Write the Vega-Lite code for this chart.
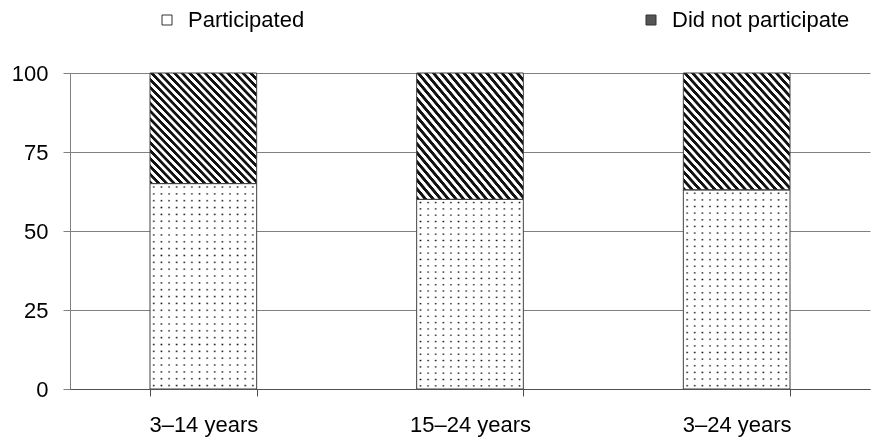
{
  "$schema": "https://vega.github.io/schema/vega-lite/v6.json",
  "width": 800,
  "height": 316,
  "autosize": {"type": "none"},
  "padding": {"left": 70, "top": 73, "right": 10, "bottom": 52},
  "background": "white",
  "config": {
    "view": {"stroke": null},
    "font": "Liberation Sans"
  },
  "data": {
    "values": [
      {"age": "3–14 years", "group": "Participated", "pct": 65},
      {"age": "3–14 years", "group": "Did not participate", "pct": 35},
      {"age": "15–24 years", "group": "Participated", "pct": 60},
      {"age": "15–24 years", "group": "Did not participate", "pct": 40},
      {"age": "3–24 years", "group": "Participated", "pct": 63},
      {"age": "3–24 years", "group": "Did not participate", "pct": 37}
    ]
  },
  "encoding": {
    "x": {
      "field": "age",
      "type": "nominal",
      "sort": null,
      "scale": {"paddingInner": 0.6, "paddingOuter": 0.3},
      "axis": {
        "title": null,
        "labelAngle": 0,
        "labelFontSize": 22,
        "labelColor": "#000",
        "labelPadding": 18,
        "tickBand": "extent",
        "tickSize": 7,
        "tickColor": "#505050",
        "domainColor": "#505050",
        "zindex": 1
      }
    }
  },
  "layer": [
    {
      "mark": {"type": "bar", "strokeWidth": 0},
      "encoding": {
        "y": {
          "field": "pct",
          "type": "quantitative",
          "stack": "zero",
          "scale": {"domain": [0, 100], "nice": false},
          "axis": {
            "title": null,
            "values": [0, 25, 50, 75, 100],
            "labelFontSize": 22,
            "labelColor": "#000",
            "labelPadding": 15,
            "tickSize": 7,
            "tickColor": "#808080",
            "domainColor": "#808080",
            "grid": true,
            "gridColor": "#808080",
            "gridOpacity": 1
          }
        },
        "detail": {"field": "group"},
        "order": {"field": "group", "sort": "descending"},
        "fill": {
          "condition": {
            "test": "datum.group === 'Did not participate'",
            "value": {
              "gradient": "linear",
              "x1": 0, "y1": 1, "x2": 1, "y2": 0,
              "stops": [
                {"offset": 0, "color": "#111"}, {"offset": 0.014286, "color": "#111"}, {"offset": 0.017857, "color": "#fff"}, {"offset": 0.032143, "color": "#fff"},
                {"offset": 0.035714, "color": "#111"}, {"offset": 0.05, "color": "#111"}, {"offset": 0.053571, "color": "#fff"}, {"offset": 0.067857, "color": "#fff"},
                {"offset": 0.071429, "color": "#111"}, {"offset": 0.085714, "color": "#111"}, {"offset": 0.089286, "color": "#fff"}, {"offset": 0.103571, "color": "#fff"},
                {"offset": 0.107143, "color": "#111"}, {"offset": 0.121429, "color": "#111"}, {"offset": 0.125, "color": "#fff"}, {"offset": 0.139286, "color": "#fff"},
                {"offset": 0.142857, "color": "#111"}, {"offset": 0.157143, "color": "#111"}, {"offset": 0.160714, "color": "#fff"}, {"offset": 0.175, "color": "#fff"},
                {"offset": 0.178571, "color": "#111"}, {"offset": 0.192857, "color": "#111"}, {"offset": 0.196429, "color": "#fff"}, {"offset": 0.210714, "color": "#fff"},
                {"offset": 0.214286, "color": "#111"}, {"offset": 0.228571, "color": "#111"}, {"offset": 0.232143, "color": "#fff"}, {"offset": 0.246429, "color": "#fff"},
                {"offset": 0.25, "color": "#111"}, {"offset": 0.264286, "color": "#111"}, {"offset": 0.267857, "color": "#fff"}, {"offset": 0.282143, "color": "#fff"},
                {"offset": 0.285714, "color": "#111"}, {"offset": 0.3, "color": "#111"}, {"offset": 0.303571, "color": "#fff"}, {"offset": 0.317857, "color": "#fff"},
                {"offset": 0.321429, "color": "#111"}, {"offset": 0.335714, "color": "#111"}, {"offset": 0.339286, "color": "#fff"}, {"offset": 0.353571, "color": "#fff"},
                {"offset": 0.357143, "color": "#111"}, {"offset": 0.371429, "color": "#111"}, {"offset": 0.375, "color": "#fff"}, {"offset": 0.389286, "color": "#fff"},
                {"offset": 0.392857, "color": "#111"}, {"offset": 0.407143, "color": "#111"}, {"offset": 0.410714, "color": "#fff"}, {"offset": 0.425, "color": "#fff"},
                {"offset": 0.428571, "color": "#111"}, {"offset": 0.442857, "color": "#111"}, {"offset": 0.446429, "color": "#fff"}, {"offset": 0.460714, "color": "#fff"},
                {"offset": 0.464286, "color": "#111"}, {"offset": 0.478571, "color": "#111"}, {"offset": 0.482143, "color": "#fff"}, {"offset": 0.496429, "color": "#fff"},
                {"offset": 0.5, "color": "#111"}, {"offset": 0.514286, "color": "#111"}, {"offset": 0.517857, "color": "#fff"}, {"offset": 0.532143, "color": "#fff"},
                {"offset": 0.535714, "color": "#111"}, {"offset": 0.55, "color": "#111"}, {"offset": 0.553571, "color": "#fff"}, {"offset": 0.567857, "color": "#fff"},
                {"offset": 0.571429, "color": "#111"}, {"offset": 0.585714, "color": "#111"}, {"offset": 0.589286, "color": "#fff"}, {"offset": 0.603571, "color": "#fff"},
                {"offset": 0.607143, "color": "#111"}, {"offset": 0.621429, "color": "#111"}, {"offset": 0.625, "color": "#fff"}, {"offset": 0.639286, "color": "#fff"},
                {"offset": 0.642857, "color": "#111"}, {"offset": 0.657143, "color": "#111"}, {"offset": 0.660714, "color": "#fff"}, {"offset": 0.675, "color": "#fff"},
                {"offset": 0.678571, "color": "#111"}, {"offset": 0.692857, "color": "#111"}, {"offset": 0.696429, "color": "#fff"}, {"offset": 0.710714, "color": "#fff"},
                {"offset": 0.714286, "color": "#111"}, {"offset": 0.728571, "color": "#111"}, {"offset": 0.732143, "color": "#fff"}, {"offset": 0.746429, "color": "#fff"},
                {"offset": 0.75, "color": "#111"}, {"offset": 0.764286, "color": "#111"}, {"offset": 0.767857, "color": "#fff"}, {"offset": 0.782143, "color": "#fff"},
                {"offset": 0.785714, "color": "#111"}, {"offset": 0.8, "color": "#111"}, {"offset": 0.803571, "color": "#fff"}, {"offset": 0.817857, "color": "#fff"},
                {"offset": 0.821429, "color": "#111"}, {"offset": 0.835714, "color": "#111"}, {"offset": 0.839286, "color": "#fff"}, {"offset": 0.853571, "color": "#fff"},
                {"offset": 0.857143, "color": "#111"}, {"offset": 0.871429, "color": "#111"}, {"offset": 0.875, "color": "#fff"}, {"offset": 0.889286, "color": "#fff"},
                {"offset": 0.892857, "color": "#111"}, {"offset": 0.907143, "color": "#111"}, {"offset": 0.910714, "color": "#fff"}, {"offset": 0.925, "color": "#fff"},
                {"offset": 0.928571, "color": "#111"}, {"offset": 0.942857, "color": "#111"}, {"offset": 0.946429, "color": "#fff"}, {"offset": 0.960714, "color": "#fff"},
                {"offset": 0.964286, "color": "#111"}, {"offset": 0.978571, "color": "#111"}, {"offset": 0.982143, "color": "#fff"}, {"offset": 0.996429, "color": "#fff"},
                {"offset": 1, "color": "#111"}
              ]
            }
          },
          "value": {
            "gradient": "linear",
            "x1": 0, "y1": 0, "x2": 1, "y2": 0,
            "stops": [
              {"offset": 0, "color": "#fff"},
              {"offset": 0.021429, "color": "#fff"}, {"offset": 0.035714, "color": "#000"}, {"offset": 0.05, "color": "#fff"},
              {"offset": 0.092857, "color": "#fff"}, {"offset": 0.107143, "color": "#000"}, {"offset": 0.121429, "color": "#fff"},
              {"offset": 0.164286, "color": "#fff"}, {"offset": 0.178571, "color": "#000"}, {"offset": 0.192857, "color": "#fff"},
              {"offset": 0.235714, "color": "#fff"}, {"offset": 0.25, "color": "#000"}, {"offset": 0.264286, "color": "#fff"},
              {"offset": 0.307143, "color": "#fff"}, {"offset": 0.321429, "color": "#000"}, {"offset": 0.335714, "color": "#fff"},
              {"offset": 0.378571, "color": "#fff"}, {"offset": 0.392857, "color": "#000"}, {"offset": 0.407143, "color": "#fff"},
              {"offset": 0.45, "color": "#fff"}, {"offset": 0.464286, "color": "#000"}, {"offset": 0.478571, "color": "#fff"},
              {"offset": 0.521429, "color": "#fff"}, {"offset": 0.535714, "color": "#000"}, {"offset": 0.55, "color": "#fff"},
              {"offset": 0.592857, "color": "#fff"}, {"offset": 0.607143, "color": "#000"}, {"offset": 0.621429, "color": "#fff"},
              {"offset": 0.664286, "color": "#fff"}, {"offset": 0.678571, "color": "#000"}, {"offset": 0.692857, "color": "#fff"},
              {"offset": 0.735714, "color": "#fff"}, {"offset": 0.75, "color": "#000"}, {"offset": 0.764286, "color": "#fff"},
              {"offset": 0.807143, "color": "#fff"}, {"offset": 0.821429, "color": "#000"}, {"offset": 0.835714, "color": "#fff"},
              {"offset": 0.878571, "color": "#fff"}, {"offset": 0.892857, "color": "#000"}, {"offset": 0.907143, "color": "#fff"},
              {"offset": 0.95, "color": "#fff"}, {"offset": 0.964286, "color": "#000"}, {"offset": 0.978571, "color": "#fff"},
              {"offset": 1, "color": "#fff"}
            ]
          }
        }
      }
    },
    {
      "transform": [{"filter": "datum.group === 'Participated'"}],
      "mark": {
        "type": "bar",
        "strokeWidth": 0,
        "blend": "screen",
        "fill": {
          "gradient": "linear",
          "x1": 0, "y1": 0, "x2": 0, "y2": 1,
          "stops": [
            {"offset": 0, "color": "#fff"},
            {"offset": 0.01, "color": "#fff"}, {"offset": 0.016667, "color": "#000"}, {"offset": 0.023333, "color": "#fff"},
            {"offset": 0.043333, "color": "#fff"}, {"offset": 0.05, "color": "#000"}, {"offset": 0.056667, "color": "#fff"},
            {"offset": 0.076667, "color": "#fff"}, {"offset": 0.083333, "color": "#000"}, {"offset": 0.09, "color": "#fff"},
            {"offset": 0.11, "color": "#fff"}, {"offset": 0.116667, "color": "#000"}, {"offset": 0.123333, "color": "#fff"},
            {"offset": 0.143333, "color": "#fff"}, {"offset": 0.15, "color": "#000"}, {"offset": 0.156667, "color": "#fff"},
            {"offset": 0.176667, "color": "#fff"}, {"offset": 0.183333, "color": "#000"}, {"offset": 0.19, "color": "#fff"},
            {"offset": 0.21, "color": "#fff"}, {"offset": 0.216667, "color": "#000"}, {"offset": 0.223333, "color": "#fff"},
            {"offset": 0.243333, "color": "#fff"}, {"offset": 0.25, "color": "#000"}, {"offset": 0.256667, "color": "#fff"},
            {"offset": 0.276667, "color": "#fff"}, {"offset": 0.283333, "color": "#000"}, {"offset": 0.29, "color": "#fff"},
            {"offset": 0.31, "color": "#fff"}, {"offset": 0.316667, "color": "#000"}, {"offset": 0.323333, "color": "#fff"},
            {"offset": 0.343333, "color": "#fff"}, {"offset": 0.35, "color": "#000"}, {"offset": 0.356667, "color": "#fff"},
            {"offset": 0.376667, "color": "#fff"}, {"offset": 0.383333, "color": "#000"}, {"offset": 0.39, "color": "#fff"},
            {"offset": 0.41, "color": "#fff"}, {"offset": 0.416667, "color": "#000"}, {"offset": 0.423333, "color": "#fff"},
            {"offset": 0.443333, "color": "#fff"}, {"offset": 0.45, "color": "#000"}, {"offset": 0.456667, "color": "#fff"},
            {"offset": 0.476667, "color": "#fff"}, {"offset": 0.483333, "color": "#000"}, {"offset": 0.49, "color": "#fff"},
            {"offset": 0.51, "color": "#fff"}, {"offset": 0.516667, "color": "#000"}, {"offset": 0.523333, "color": "#fff"},
            {"offset": 0.543333, "color": "#fff"}, {"offset": 0.55, "color": "#000"}, {"offset": 0.556667, "color": "#fff"},
            {"offset": 0.576667, "color": "#fff"}, {"offset": 0.583333, "color": "#000"}, {"offset": 0.59, "color": "#fff"},
            {"offset": 0.61, "color": "#fff"}, {"offset": 0.616667, "color": "#000"}, {"offset": 0.623333, "color": "#fff"},
            {"offset": 0.643333, "color": "#fff"}, {"offset": 0.65, "color": "#000"}, {"offset": 0.656667, "color": "#fff"},
            {"offset": 0.676667, "color": "#fff"}, {"offset": 0.683333, "color": "#000"}, {"offset": 0.69, "color": "#fff"},
            {"offset": 0.71, "color": "#fff"}, {"offset": 0.716667, "color": "#000"}, {"offset": 0.723333, "color": "#fff"},
            {"offset": 0.743333, "color": "#fff"}, {"offset": 0.75, "color": "#000"}, {"offset": 0.756667, "color": "#fff"},
            {"offset": 0.776667, "color": "#fff"}, {"offset": 0.783333, "color": "#000"}, {"offset": 0.79, "color": "#fff"},
            {"offset": 0.81, "color": "#fff"}, {"offset": 0.816667, "color": "#000"}, {"offset": 0.823333, "color": "#fff"},
            {"offset": 0.843333, "color": "#fff"}, {"offset": 0.85, "color": "#000"}, {"offset": 0.856667, "color": "#fff"},
            {"offset": 0.876667, "color": "#fff"}, {"offset": 0.883333, "color": "#000"}, {"offset": 0.89, "color": "#fff"},
            {"offset": 0.91, "color": "#fff"}, {"offset": 0.916667, "color": "#000"}, {"offset": 0.923333, "color": "#fff"},
            {"offset": 0.943333, "color": "#fff"}, {"offset": 0.95, "color": "#000"}, {"offset": 0.956667, "color": "#fff"},
            {"offset": 0.976667, "color": "#fff"}, {"offset": 0.983333, "color": "#000"}, {"offset": 0.99, "color": "#fff"},
            {"offset": 1, "color": "#fff"}
          ]
        }
      },
      "encoding": {
        "y": {"field": "pct", "type": "quantitative", "stack": null}
      }
    },
    {
      "mark": {"type": "bar", "fillOpacity": 0, "stroke": "#404040", "strokeWidth": 1},
      "encoding": {
        "y": {"field": "pct", "type": "quantitative", "stack": "zero"},
        "detail": {"field": "group"},
        "order": {"field": "group", "sort": "descending"}
      }
    },
    {
      "mark": {"type": "point", "filled": true, "opacity": 0},
      "encoding": {
        "y": {"field": "pct", "type": "quantitative", "stack": null},
        "color": {
          "field": "group",
          "type": "nominal",
          "scale": {
            "domain": ["Participated", "Did not participate"],
            "range": ["#ffffff", "#555555"]
          },
          "legend": {
            "title": null,
            "orient": "none",
            "direction": "horizontal",
            "legendX": 86,
            "legendY": -64,
            "padding": 0,
            "symbolType": "square",
            "symbolSize": 100,
            "symbolStrokeColor": "#333",
            "symbolStrokeWidth": 1,
            "symbolOpacity": 1,
            "labelFontSize": 22,
            "labelColor": "#000",
            "labelOffset": 10,
            "labelLimit": 400,
            "columnPadding": 335
          }
        }
      }
    }
  ]
}
